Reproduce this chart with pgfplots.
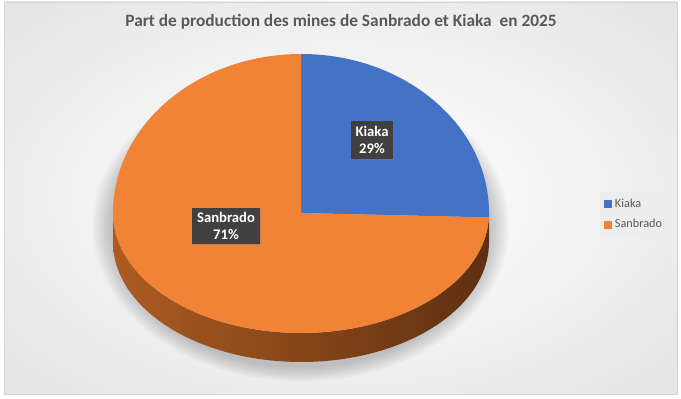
\documentclass[border=0pt]{standalone}
\usepackage{pgfplots}
\pgfplotsset{compat=1.18}
\usepackage{pgfplotstable}
\usepackage{fontspec}
\setmainfont{Carlito}
\usetikzlibrary{shadows}

\definecolor{kblue}{HTML}{4472C4}
\definecolor{kbluedark}{HTML}{2F528F}
\definecolor{sorange}{HTML}{F08336}
\definecolor{sideL}{HTML}{AD5B22}
\definecolor{sideR}{HTML}{5E3010}
\definecolor{titlegray}{HTML}{595959}
\definecolor{labelbox}{HTML}{404040}
\definecolor{framecol}{HTML}{D4D4D4}
\definecolor{bgedge}{HTML}{D8D8D8}
\definecolor{bgcorner}{HTML}{C6C6C6}
\definecolor{legbg}{HTML}{EDEDED}

\pgfdeclareradialshading{bgshade}{\pgfpoint{0bp}{0bp}}{color(0bp)=(white); color(12bp)=(white!97!black); color(50bp)=(bgedge); color(71bp)=(bgcorner)}

\pgfplotstableread{
name value
Kiaka 29
Sanbrado 71
}\piedata

\begin{document}
\begin{tikzpicture}
\pgfplotstablegetelem{0}{value}\of\piedata \let\vK\pgfplotsretval
\pgfplotstablegetelem{1}{value}\of\piedata \let\vS\pgfplotsretval
% geometry (axis units = pixels, y measured upward); top face = upper and lower half-ellipses
\def\cx{301}\def\cy{186}\def\rx{188}\def\ru{159}\def\rl{120}
\def\rxpt{141pt}\def\rupt{119.25pt}\def\rlpt{90pt}\def\deppt{21.75pt}
\pgfmathsetmacro\tot{\vK+\vS}
\pgfmathsetmacro\fK{\vK/\tot}
% area-proportional slices: Kiaka starts at 12 o'clock, clockwise
\pgfmathsetmacro\areaT{0.5*(\ru+\rl)}
\pgfmathsetmacro\excess{\fK*\areaT-0.25*\ru}
\pgfmathsetmacro\phiK{2*\excess/\rl*180}
\pgfmathsetmacro\aK{-\phiK}
\pgfmathsetmacro\aKf{360-\phiK}
\pgfmathsetmacro\xKe{\cx+\rx*cos(\aK)}
\pgfmathsetmacro\yKe{\cy+\rl*sin(\aK)}
\pgfmathsetmacro\xL{\cx-\rx}
\pgfmathsetmacro\ytop{\cy+\ru}
\begin{axis}[
  scale only axis, width=510.75pt, height=299.25pt,
  xmin=0, xmax=681, ymin=0, ymax=399, enlargelimits=false,
  hide axis, clip=false, xtick=\empty, ytick=\empty,
  legend style={at={(axis cs:600,207)}, anchor=north west, draw=none,
    fill=legbg, text=titlegray,
    font=\fontsize{9.2}{11}\selectfont, row sep=3.5pt, inner sep=3pt,
    cells={anchor=west}},
  legend image code/.code={\fill[#1] (0pt,-3pt) rectangle (6pt,3pt);},
]
% background
\fill[white] (axis cs:0,0) rectangle (axis cs:681,399);
\shade[shading=bgshade] (axis cs:4,5) rectangle (axis cs:677,397);
\draw[framecol, line width=0.6pt] (axis cs:4,5) rectangle (axis cs:677,397);
% soft shadow
\pgfplotsinvokeforeach{1,...,9}{
  \fill[black, opacity=0.025] (axis cs:\cx,173) ellipse[x radius={141pt+#1*1.7pt}, y radius={105pt+#1*1.3pt}];
}
% side walls
\shade[left color=sideL, right color=sideR] (axis cs:\xL,\cy) arc[start angle=180, end angle=\aKf, x radius=\rxpt, y radius=\rlpt] -- ++(0,-\deppt) arc[start angle=\aKf, end angle=180, x radius=\rxpt, y radius=\rlpt] -- cycle;
\fill[kbluedark] (axis cs:\xKe,\yKe) arc[start angle=\aKf, end angle=360, x radius=\rxpt, y radius=\rlpt] -- ++(0,-\deppt) arc[start angle=360, end angle=\aKf, x radius=\rxpt, y radius=\rlpt] -- cycle;
% top slices
\fill[kblue] (axis cs:\cx,\cy) -- (axis cs:\cx,\ytop) arc[start angle=90, end angle=0, x radius=\rxpt, y radius=\rupt] arc[start angle=0, end angle=\aK, x radius=\rxpt, y radius=\rlpt] -- cycle;
\fill[sorange] (axis cs:\cx,\cy) -- (axis cs:\xKe,\yKe) arc[start angle=\aK, end angle=-180, x radius=\rxpt, y radius=\rlpt] arc[start angle=180, end angle=90, x radius=\rxpt, y radius=\rupt] -- cycle;
% data labels
\node[fill=labelbox, text=white, font=\bfseries\fontsize{11}{13.2}\selectfont, align=center, inner xsep=3.5pt, inner ysep=3.5pt, drop shadow={opacity=0.35, shadow xshift=1pt, shadow yshift=-1pt}] at (axis cs:372,259) {Kiaka\\29\%};
\node[fill=labelbox, text=white, font=\bfseries\fontsize{11}{13.2}\selectfont, align=center, inner xsep=3.5pt, inner ysep=3pt, drop shadow={opacity=0.35, shadow xshift=1pt, shadow yshift=-1pt}] at (axis cs:226,173) {Sanbrado\\71\%};
% title
\node[text=titlegray, font=\bfseries\fontsize{13}{15}\selectfont] at (axis cs:341,377) {Part de production des mines de Sanbrado et Kiaka\ \ en 2025};
% legend
\addlegendimage{fill=kblue, draw=none}
\addlegendentry{Kiaka}
\addlegendimage{fill=sorange, draw=none}
\addlegendentry{Sanbrado}
\end{axis}
\pgfresetboundingbox
\path (current axis.south west) rectangle (current axis.north east);
\end{tikzpicture}
\end{document}
